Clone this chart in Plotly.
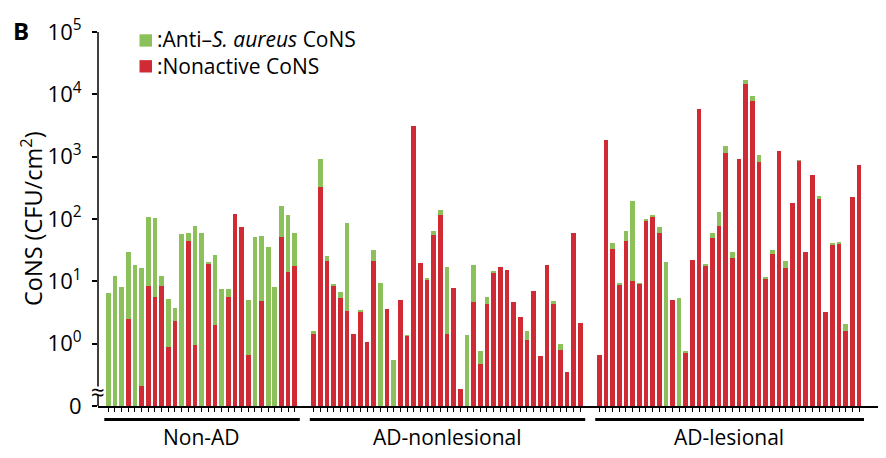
import plotly.graph_objects as go

# ---------------- data (CFU/cm^2) ----------------
group_names = ["Non-AD", "AD-nonlesional", "AD-lesional"]

nonad_nonactive = [0, 0, 0, 2.5, 0, 0.21, 8.5, 5.7, 8.5, 0.9, 2.35, 0, 45, 0.94, 0,
                   19.4, 1.96, 0, 5.6, 121, 74, 0.67, 0, 4.8, 0, 0, 50.5, 13.9, 17.4]
nonad_anti = [6.6, 12.3, 8.2, 27.6, 18.3, 16.3, 100, 97, 3.8, 4.4, 1.35, 57, 14, 76.7, 60,
              0.5, 24.7, 7.6, 1.8, 0, 0, 4.4, 51, 49, 35.5, 8.2, 111.5, 103.7, 42.6]

adnl_nonactive = [1.44, 326, 20.9, 8.3, 5.35, 3.4, 1.44, 3.28, 1.05, 21.2, 0, 3.6, 0, 5.1,
                  1.34, 3070, 19.9, 10.6, 56.3, 117.6, 1.44, 7.7, 0.19, 0, 4.74, 0.47, 4.3,
                  13.9, 16.7, 15.2, 4.6, 2.7, 1.13, 6.9, 0.63, 18.5, 4.4, 0.8, 0.35, 60, 2.16]
adnl_anti = [0.13, 576, 4.8, 0.8, 1.5, 83.2, 0, 0.12, 0, 10.9, 9.5, 0, 0.54, 0,
             0.03, 0, 0, 0.4, 8.3, 22, 15.3, 0, 0, 1.36, 13.8, 0.28, 1.4,
             0.4, 0, 0, 0, 0, 0.46, 0, 0, 0, 0.5, 0.17, 0, 0, 0]

adl_nonactive = [0.67, 1880, 32.9, 8.8, 44.7, 10, 9.1, 95.7, 111, 60, 0, 5.1, 0, 0.73,
                 22.2, 5800, 17.8, 49.9, 78.5, 1150, 23.3, 902, 14760, 7780, 817, 11.2,
                 27.4, 1225, 16.5, 181, 857, 29.8, 512, 215, 3.28, 39, 40.5, 1.59, 225, 740]
adl_anti = [0, 0, 7.6, 0.4, 19.9, 184.5, 0.3, 2.1, 2, 14.8, 20.6, 0, 5.5, 0.03,
            0, 0, 1.4, 10, 52.5, 360, 6.2, 0, 2340, 1720, 240, 0.3,
            4.6, 0, 4.7, 0, 22, 0, 0, 16, 0, 1, 1, 0.5, 0, 0]

tick_vals = [0.1, 1, 10, 100, 1000, 10000, 100000]
tick_text = ["0", "10<sup>0</sup>", "10<sup>1</sup>", "10<sup>2</sup>",
             "10<sup>3</sup>", "10<sup>4</sup>", "10<sup>5</sup>"]

series_nonactive = [nonad_nonactive, adnl_nonactive, adl_nonactive]
series_anti = [nonad_anti, adnl_anti, adl_anti]

# ---------------- layout constants ----------------
OFF = 8                      # default page (body) margin of the html page
W, H = 886 - OFF, 458 - OFF
ML, MR, MT, MB = 90, 6, 22, 52
PW, PH = W - ML - MR, H - MT - MB
GREEN = "#8cc05b"
RED = "#d02a35"
FONT = "Open Sans"
GAP = 2.85  # spacing between groups (in bar slots)


def px_x(p):
    """page pixel -> paper x"""
    return (p - OFF - ML) / PW


def px_y(p):
    """page pixel -> paper y"""
    return (H - MB - (p - OFF)) / PH


# positions of bars
xpos, red_all, green_all, spans = [], [], [], []
start = 0.0
for red, green in zip(series_nonactive, series_anti):
    pos = [start + i for i in range(len(red))]
    spans.append((pos[0], pos[-1]))
    xpos += pos
    red_all += red
    green_all += green
    start = pos[-1] + GAP

fig = go.Figure()
fig.add_trace(go.Bar(x=xpos, y=[v if v > 0 else None for v in red_all],
                     name="Nonactive CoNS", marker=dict(color=RED, line=dict(width=0)),
                     width=0.7, showlegend=False))
fig.add_trace(go.Bar(x=xpos, y=[v if v > 0 else None for v in green_all],
                     name="Anti-S. aureus CoNS", marker=dict(color=GREEN, line=dict(width=0)),
                     width=0.7, showlegend=False))

slot_px = 6.661
x_left = -(108.3 - 98) / slot_px
x_right = xpos[-1] + (880 - 859) / slot_px

shapes = []
annotations = []

# y axis line with break
shapes.append(dict(type="line", xref="paper", yref="paper", x0=0, x1=0,
                   y0=px_y(386.5), y1=1, line=dict(color="black", width=1.5)))
shapes.append(dict(type="line", xref="paper", yref="paper", x0=0, x1=0,
                   y0=0, y1=px_y(395.5), line=dict(color="black", width=1.5)))
annotations.append(dict(text="≈", xref="paper", yref="paper", x=0, y=px_y(391),
                        xanchor="center", yanchor="middle", showarrow=False,
                        font=dict(family=FONT, size=24, color="black")))

# group lines and labels
for name, (a, b) in zip(group_names, spans):
    shapes.append(dict(type="line", xref="x", yref="paper", x0=a - 0.6, x1=b + 0.75,
                       y0=px_y(419.5), y1=px_y(419.5), line=dict(color="black", width=3)))
    annotations.append(dict(text=name, xref="x", yref="paper", x=(a + b) / 2, y=px_y(437),
                            xanchor="center", yanchor="middle", showarrow=False,
                            font=dict(family=FONT, size=21, color="black")))

# legend (manual)
for col, yc in [(GREEN, 38.5), (RED, 64.5)]:
    shapes.append(dict(type="rect", xref="paper", yref="paper",
                       x0=px_x(139.5), x1=px_x(152), y0=px_y(yc + 6.2), y1=px_y(yc - 6.2),
                       fillcolor=col, line=dict(width=0)))
annotations.append(dict(text=":Anti–<i>S. aureus</i> CoNS<br>:Nonactive CoNS",
                        xref="paper", yref="paper", x=px_x(154.5), y=px_y(50.5),
                        xanchor="left", yanchor="middle", align="left", showarrow=False,
                        font=dict(family=FONT, size=21, color="black")))

# panel letter
annotations.append(dict(text="<b>B</b>", xref="paper", yref="paper", x=px_x(21), y=px_y(28),
                        xanchor="center", yanchor="middle", showarrow=False,
                        font=dict(family=FONT, size=24, color="black")))
# y title
annotations.append(dict(text="CoNS (CFU/cm<sup>2</sup>)", xref="paper", yref="paper",
                        x=px_x(31), y=px_y(218), textangle=-90,
                        xanchor="center", yanchor="middle", showarrow=False,
                        font=dict(family=FONT, size=23.5, color="black")))

fig.update_layout(
    width=W, height=H,
    margin=dict(l=ML, r=MR, t=MT, b=MB, pad=0),
    barmode="stack",
    bargap=0,
    plot_bgcolor="white", paper_bgcolor="white",
    font=dict(family=FONT, size=21, color="black"),
    shapes=shapes, annotations=annotations,
    xaxis=dict(range=[x_left, x_right], showgrid=False, zeroline=False,
               showline=True, linecolor="black", linewidth=1.5,
               tickvals=xpos, showticklabels=False, ticks="outside",
               ticklen=4, tickwidth=1, tickcolor="black"),
    yaxis=dict(type="log", range=[-1, 5], showgrid=False, zeroline=False,
               showline=False, tickvals=tick_vals, ticktext=tick_text,
               ticks="outside", ticklen=5, tickwidth=1.5, tickcolor="black",
               ticklabelstandoff=6,
               tickfont=dict(family=FONT, size=22, color="black")),
)

fig.write_html("out.html")
